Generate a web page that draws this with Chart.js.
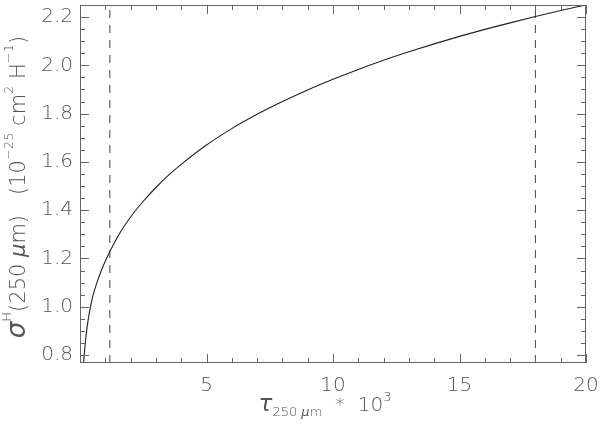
<!DOCTYPE html>
<html>
<head>
<meta charset="utf-8">
<script src="https://cdn.jsdelivr.net/npm/chart.js@4/dist/chart.umd.min.js"></script>
<style>
  html, body { margin: 0; padding: 0; background: #fff; }
  #wrap { width: 600px; height: 428px; }
</style>
</head>
<body>
<div id="wrap"><canvas id="chart" width="600" height="428"></canvas></div>
<script>
// curve: tau_250 * 1e3 vs sigma^H(250um)
const tauValues = [0.14, 0.22, 0.34, 0.5, 0.7, 0.9, 1.18, 1.6, 2.0, 2.5, 3.0, 3.5, 4.0,
                   5, 6, 7, 8, 9, 10, 11, 12, 13, 14, 15, 16, 17, 18, 19, 20];
const sigmaValues = [0.767, 0.862, 0.958, 1.041, 1.110, 1.165, 1.229, 1.31, 1.372, 1.437, 1.494, 1.545, 1.59,
                     1.67, 1.738, 1.797, 1.85, 1.898, 1.942, 1.983, 2.021, 2.056, 2.089, 2.12, 2.149, 2.176, 2.202, 2.227, 2.25];

// dashed limits
const tauCuts = [1.18, 18];

// axis ranges and tick labels
const xRange = [0, 20];
const yRange = [0.767, 2.25];
const xLabelTicks = [5, 10, 15, 20];
const xMinorStep = 1;
const yLabelTicks = [0.8, 1.0, 1.2, 1.4, 1.6, 1.8, 2.0, 2.2];
const yMinorStep = 0.05;

const textColor = '#555';
const axisColor = '#666';
const fontFamily = "'DejaVu Sans', 'Liberation Sans', sans-serif";
const fontWeight = 200;

function isLabelled(list, v) {
    return list.some(t => Math.abs(t - v) < 1e-6);
}

function stepTicks(min, max, step) {
    const out = [];
    const start = Math.ceil(min / step - 1e-9);
    for (let k = start; k * step <= max + 1e-9; k++) {
        out.push({ value: Math.round(k * step * 1000) / 1000 });
    }
    return out;
}

// inward ticks on all four sides plus the frame
const frameTicks = {
    id: 'frameTicks',
    afterDatasetsDraw(chart) {
        const { ctx, chartArea: a, scales } = chart;
        ctx.save();
        ctx.strokeStyle = axisColor;
        ctx.lineWidth = 1;
        ctx.strokeRect(a.left + 0.5, a.top + 0.5, a.right - a.left - 1, a.bottom - a.top - 1);
        ctx.beginPath();
        scales.x.ticks.forEach(t => {
            const px = Math.round(scales.x.getPixelForValue(t.value)) + 0.5;
            const len = isLabelled(xLabelTicks, t.value) ? 9 : 5;
            ctx.moveTo(px, a.bottom); ctx.lineTo(px, a.bottom - len);
            ctx.moveTo(px, a.top); ctx.lineTo(px, a.top + len);
        });
        scales.y.ticks.forEach(t => {
            const py = Math.round(scales.y.getPixelForValue(t.value)) + 0.5;
            const len = isLabelled(yLabelTicks, t.value) ? 9 : 5;
            ctx.moveTo(a.left, py); ctx.lineTo(a.left + len, py);
            ctx.moveTo(a.right, py); ctx.lineTo(a.right - len, py);
        });
        ctx.stroke();
        ctx.restore();
    }
};

// axis titles with sub/superscripts
function partFont(p) {
    return (p.italic ? 'italic ' : '') + fontWeight + ' ' + p.size + 'px ' + fontFamily;
}

function drawParts(ctx, parts, cx, baseline) {
    let total = 0;
    parts.forEach(p => {
        ctx.font = partFont(p);
        p.w = ctx.measureText(p.t).width;
        total += p.w;
    });
    let x = cx - total / 2;
    parts.forEach(p => {
        ctx.font = partFont(p);
        ctx.fillText(p.t, x, baseline + (p.dy || 0));
        x += p.w;
    });
}

const axisTitles = {
    id: 'axisTitles',
    afterDraw(chart) {
        const { ctx, chartArea: a } = chart;
        ctx.save();
        ctx.fillStyle = textColor;
        ctx.textBaseline = 'alphabetic';
        drawParts(ctx, [
            { t: 'τ', size: 23, italic: true },
            { t: '250 ', size: 13, dy: 5 },
            { t: 'μ', size: 13, italic: true, dy: 5 },
            { t: 'm', size: 13, dy: 5 },
            { t: '  *  10', size: 20 },
            { t: '3', size: 13, dy: -10 }
        ], (a.left + a.right) / 2 - 8, 411);

        ctx.translate(25, (a.top + a.bottom) / 2 + 3);
        ctx.rotate(-Math.PI / 2);
        drawParts(ctx, [
            { t: 'σ', size: 26, italic: true },
            { t: 'H', size: 13, dy: -14 },
            { t: '(250 ', size: 21 },
            { t: 'μ', size: 21, italic: true },
            { t: 'm)   (10', size: 21 },
            { t: '−25', size: 13, dy: -12 },
            { t: ' cm', size: 21 },
            { t: '2', size: 13, dy: -12 },
            { t: ' H', size: 21 },
            { t: '−1', size: 13, dy: -12 },
            { t: ')', size: 21 }
        ], 0, 0);
        ctx.restore();
    }
};

const curve = tauValues.map((x, i) => ({ x: x, y: sigmaValues[i] }));
const cutSets = tauCuts.map(c => ({
    data: [{ x: c, y: yRange[0] }, { x: c, y: yRange[1] }],
    borderColor: '#444',
    borderWidth: 1,
    borderDash: [8, 7],
    pointRadius: 0
}));

new Chart(document.getElementById('chart'), {
    type: 'line',
    data: {
        datasets: [{
            data: curve,
            borderColor: '#222',
            borderWidth: 1.1,
            pointRadius: 0,
            cubicInterpolationMode: 'monotone'
        }, ...cutSets]
    },
    options: {
        responsive: false,
        animation: false,
        events: [],
        layout: { padding: { left: 0, right: 14, top: 5, bottom: 0 } },
        plugins: {
            legend: { display: false },
            tooltip: { enabled: false }
        },
        scales: {
            x: {
                type: 'linear',
                min: xRange[0],
                max: xRange[1],
                afterBuildTicks: s => { s.ticks = stepTicks(xRange[0], xRange[1], xMinorStep); },
                afterFit: s => { s.height = 65; s.paddingLeft = 0; s.paddingRight = 0; },
                grid: { display: false, drawTicks: false },
                border: { display: false },
                ticks: {
                    autoSkip: false,
                    maxRotation: 0,
                    padding: 11,
                    color: textColor,
                    font: { family: fontFamily, size: 20, weight: fontWeight },
                    callback: v => isLabelled(xLabelTicks, v) ? String(v) : ''
                }
            },
            y: {
                type: 'linear',
                min: yRange[0],
                max: yRange[1],
                afterBuildTicks: s => { s.ticks = stepTicks(yRange[0], yRange[1], yMinorStep); },
                afterFit: s => { s.width = 80; s.paddingTop = 0; s.paddingBottom = 0; },
                grid: { display: false, drawTicks: false },
                border: { display: false },
                ticks: {
                    autoSkip: false,
                    padding: 7,
                    color: textColor,
                    font: { family: fontFamily, size: 20, weight: fontWeight },
                    callback: v => isLabelled(yLabelTicks, v) ? v.toFixed(1) : ''
                }
            }
        }
    },
    plugins: [frameTicks, axisTitles]
});
</script>
</body>
</html>
